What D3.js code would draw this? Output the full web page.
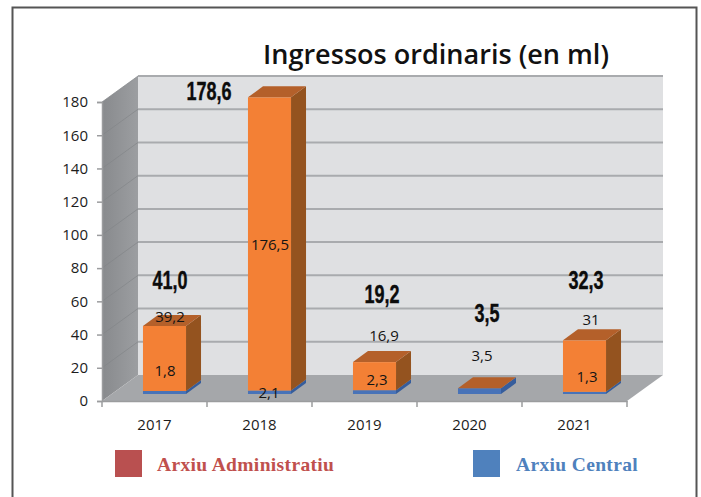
<!DOCTYPE html>
<html>
<head>
<meta charset="utf-8">
<script src="https://cdn.jsdelivr.net/npm/d3@7"></script>
<style>
  html, body { margin: 0; padding: 0; background: #fff; }
  svg { display: block; }
  .axis text { font-family: "Open Sans", sans-serif; font-size: 15px; fill: #1c1c1c; }
  .axis path, .axis line { stroke: #9b9c9e; stroke-width: 1.5; }
</style>
</head>
<body>
<svg id="chart" width="701" height="497"></svg>
<script>
const years = ["2017", "2018", "2019", "2020", "2021"];
const central = [1.8, 2.1, 2.3, 3.5, 1.3];
const administratiu = [39.2, 176.5, 16.9, 0, 31];
const totals = [41.0, 178.6, 19.2, 3.5, 32.3];
const yTicks = [0, 20, 40, 60, 80, 100, 120, 140, 160, 180];

// label nudges, picked by eye from the original
const totalNudge = [[5.5, -46], [-60.5, -6], [7.5, -68], [7.5, -75], [1.5, -60]];
const adminNudge = [[5.5, -9], [0.5, 147], [9.5, -26], [0, 0], [6.5, -21]];
const centralNudge = [[0.5, -23], [-0.5, -1], [2.5, -14], [2.5, -38], [2.5, -17]];

const fmt = (v) => String(v).replace(".", ",");
const fmt1 = (v) => v.toFixed(1).replace(".", ",");

const svg = d3.select("#chart");

// front plane of the 3d box
const x = d3.scaleBand().domain(years).range([102, 627]).paddingInner(0.59).paddingOuter(0.295);
const y = d3.scaleLinear().domain([0, 180]).range([401, 102]);
const wall = { dx: 36, dy: -26 };     // depth of the whole box
const barOff = { dx: 10, dy: -7 };    // where bars stand on the floor
const barDepth = { dx: 15, dy: -11 };

const pts = (a) => a.map((p) => p.join(",")).join(" ");

// outer frame
svg.append("rect")
  .attr("x", 12.5).attr("y", 7.5)
  .attr("width", 684).attr("height", 500)
  .attr("fill", "#fff")
  .attr("stroke", "#555")
  .attr("stroke-width", 2);

svg.append("text")
  .attr("x", 436).attr("y", 64)
  .attr("text-anchor", "middle")
  .attr("font-family", "'Open Sans', sans-serif")
  .attr("font-weight", 600)
  .attr("font-size", 27)
  .attr("textLength", 346)
  .attr("lengthAdjust", "spacingAndGlyphs")
  .attr("fill", "#111")
  .text("Ingressos ordinaris (en ml)");

const xl = x.range()[0], xr = x.range()[1];

// back wall
svg.append("polygon")
  .attr("points", pts([[xl + wall.dx, y(180) + wall.dy], [xr + wall.dx, y(180) + wall.dy], [xr + wall.dx, y(0) + wall.dy], [xl + wall.dx, y(0) + wall.dy]]))
  .attr("fill", "#dfe0e2");

// side wall
const sideGrad = svg.append("defs").append("linearGradient").attr("id", "side");
sideGrad.append("stop").attr("offset", 0).attr("stop-color", "#888a8d");
sideGrad.append("stop").attr("offset", 1).attr("stop-color", "#9c9ea1");
svg.append("polygon")
  .attr("points", pts([[xl, y(180)], [xl + wall.dx, y(180) + wall.dy], [xl + wall.dx, y(0) + wall.dy], [xl, y(0)]]))
  .attr("fill", "url(#side)");

// floor
svg.append("polygon")
  .attr("points", pts([[xl, y(0)], [xl + wall.dx, y(0) + wall.dy], [xr + wall.dx, y(0) + wall.dy], [xr, y(0)]]))
  .attr("fill", "#a5a7aa");

// gridlines, back wall then side wall
svg.append("g").selectAll("line")
  .data(yTicks.filter((d) => d > 0))
  .enter().append("line")
  .attr("x1", xl + wall.dx).attr("x2", xr + wall.dx)
  .attr("y1", (d) => y(d) + wall.dy).attr("y2", (d) => y(d) + wall.dy)
  .attr("stroke", "#a9abae").attr("stroke-width", 2);
svg.append("g").selectAll("line")
  .data(yTicks.filter((d) => d > 0))
  .enter().append("line")
  .attr("x1", xl).attr("x2", xl + wall.dx)
  .attr("y1", (d) => y(d)).attr("y2", (d) => y(d) + wall.dy)
  .attr("stroke", "#838588").attr("stroke-width", 0.7);

const yAxis = d3.axisLeft(y).tickValues(yTicks).tickSize(5).tickPadding(9);
svg.append("g").attr("class", "axis").attr("transform", `translate(${xl},0)`).call(yAxis);

const xAxis = d3.axisBottom(x).tickSize(0).tickPadding(24);
const xg = svg.append("g").attr("class", "axis").attr("transform", `translate(0,${y(0)})`).call(xAxis);
xg.selectAll(".tick text").attr("dy", "0.32em");
xg.selectAll(".sep")
  .data(d3.range(years.length + 1))
  .enter().append("line")
  .attr("class", "sep")
  .attr("x1", (i) => xl + i * x.step()).attr("x2", (i) => xl + i * x.step())
  .attr("y1", 0).attr("y2", 6);

// bars, stacked central first
const rows = years.map((year, i) => ({ year, central: central[i], administratiu: administratiu[i] }));
const stack = d3.stack().keys(["central", "administratiu"])(rows);
const colors = {
  central: { front: "#4873b8", side: "#365d9c", top: "#3f68a8" },
  administratiu: { front: "#f38035", side: "#94531f", top: "#b4602a" }
};

const barsG = svg.append("g");
stack.forEach((layer) => {
  const c = colors[layer.key];
  layer.forEach((d) => {
    const x0 = x(d.data.year) + barOff.dx;
    const x1 = x0 + x.bandwidth();
    const yb = y(d[0]) + barOff.dy;
    const yt = y(d[1]) + barOff.dy;
    barsG.append("polygon")
      .attr("points", pts([[x1, yt], [x1 + barDepth.dx, yt + barDepth.dy], [x1 + barDepth.dx, yb + barDepth.dy], [x1, yb]]))
      .attr("fill", c.side);
    barsG.append("rect")
      .attr("x", x0).attr("y", yt)
      .attr("width", x.bandwidth()).attr("height", yb - yt)
      .attr("fill", c.front);
    if (layer.key === "administratiu") {
      barsG.append("polygon")
        .attr("points", pts([[x0, yt], [x0 + barDepth.dx, yt + barDepth.dy], [x1 + barDepth.dx, yt + barDepth.dy], [x1, yt]]))
        .attr("fill", c.top);
    }
  });
});

// value labels
const barCenter = (year) => x(year) + barOff.dx + x.bandwidth() / 2;
const smallLabel = (px, py, txt) => svg.append("text")
  .attr("x", px).attr("y", py).attr("dy", "0.35em")
  .attr("text-anchor", "middle")
  .attr("font-family", "'Open Sans', sans-serif")
  .attr("font-size", 15)
  .attr("fill", "#141414")
  .text(txt);

years.forEach((year, i) => {
  const top = y(totals[i]) + barOff.dy;
  const base = y(0) + barOff.dy;
  if (administratiu[i] > 0) {
    smallLabel(barCenter(year) + adminNudge[i][0], top + adminNudge[i][1], fmt(administratiu[i]));
  }
  smallLabel(barCenter(year) + centralNudge[i][0], base + centralNudge[i][1], fmt(central[i]));

  const tx = barCenter(year) + totalNudge[i][0];
  const ty = top + totalNudge[i][1];
  svg.append("text")
    .attr("transform", `translate(${tx},${ty}) scale(0.72,1)`)
    .attr("dy", "0.35em")
    .attr("text-anchor", "middle")
    .attr("font-family", "'Liberation Sans', sans-serif")
    .attr("font-weight", 700)
    .attr("font-size", 25)
    .attr("fill", "#0c0c0c")
    .attr("stroke", "#0c0c0c")
    .attr("stroke-width", 0.4)
    .text(fmt1(totals[i]));
});

// legend
const legendNames = ["Arxiu Administratiu", "Arxiu Central"];
const legendColors = ["#b95050", "#4f81bd"];
const legendText = ["#c0504d", "#4f81bd"];
const legendX = d3.scaleOrdinal().domain(legendNames).range([115, 473]);
const legend = svg.append("g").selectAll("g")
  .data(legendNames)
  .enter().append("g")
  .attr("transform", (d) => `translate(${legendX(d)},450)`);
legend.append("rect")
  .attr("width", 27).attr("height", 27)
  .attr("fill", (d, i) => legendColors[i]);
legend.append("text")
  .attr("x", (d, i) => (i === 0 ? 42 : 43)).attr("y", 21)
  .attr("font-family", "'Liberation Serif', serif")
  .attr("font-weight", 700)
  .attr("font-size", 19.5)
  .attr("letter-spacing", 0.35)
  .attr("fill", (d, i) => legendText[i])
  .text((d) => d);
</script>
</body>
</html>
